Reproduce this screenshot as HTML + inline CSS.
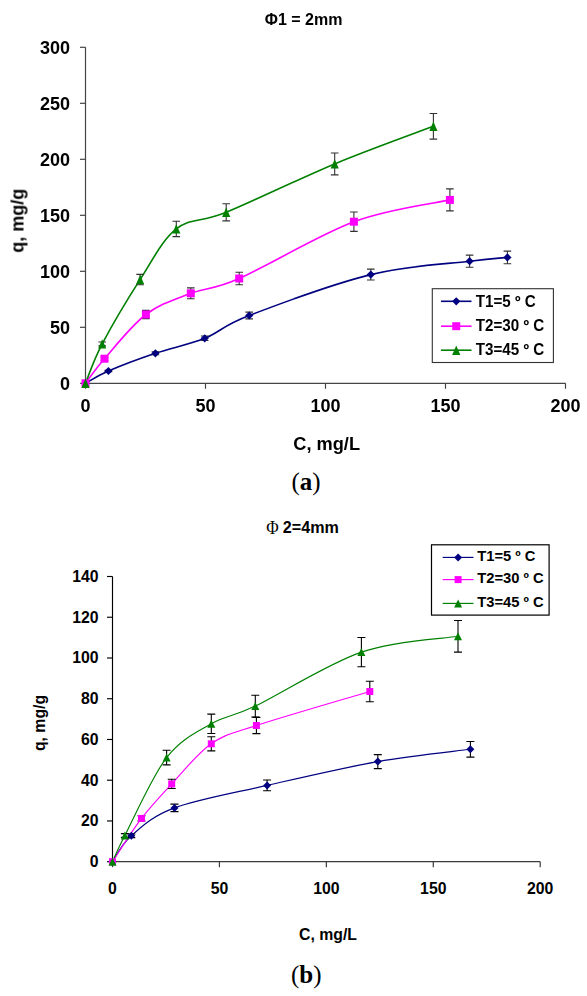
<!DOCTYPE html><html><head><meta charset="utf-8"><title>chart</title><style>
html,body{margin:0;padding:0;background:#fff}svg{display:block}text{font-family:"Liberation Sans",sans-serif;font-weight:bold;fill:#000}.ser{font-family:"Liberation Serif",serif}
</style></head><body>
<svg width="587" height="996" viewBox="0 0 587 996">
<rect width="587" height="996" fill="#fff"/>
<g filter="url(#b1)">
<path d="M85.50,383.30 H565.50" stroke="#444" stroke-width="1.20" fill="none"/>
<path d="M85.50,47.30 V383.30" stroke="#444" stroke-width="1.20" fill="none"/>
<path d="M80.00,383.30 H85.50" stroke="#444" stroke-width="1.20"/>
<text x="70.00" y="389.60" font-size="18.00" text-anchor="end">0</text>
<path d="M80.00,327.30 H85.50" stroke="#444" stroke-width="1.20"/>
<text x="70.00" y="333.60" font-size="18.00" text-anchor="end">50</text>
<path d="M80.00,271.30 H85.50" stroke="#444" stroke-width="1.20"/>
<text x="70.00" y="277.60" font-size="18.00" text-anchor="end">100</text>
<path d="M80.00,215.30 H85.50" stroke="#444" stroke-width="1.20"/>
<text x="70.00" y="221.60" font-size="18.00" text-anchor="end">150</text>
<path d="M80.00,159.30 H85.50" stroke="#444" stroke-width="1.20"/>
<text x="70.00" y="165.60" font-size="18.00" text-anchor="end">200</text>
<path d="M80.00,103.30 H85.50" stroke="#444" stroke-width="1.20"/>
<text x="70.00" y="109.60" font-size="18.00" text-anchor="end">250</text>
<path d="M80.00,47.30 H85.50" stroke="#444" stroke-width="1.20"/>
<text x="70.00" y="53.60" font-size="18.00" text-anchor="end">300</text>
<path d="M85.50,383.30 V388.80" stroke="#444" stroke-width="1.20"/>
<text x="85.50" y="411.80" font-size="18.00" text-anchor="middle">0</text>
<path d="M205.50,383.30 V388.80" stroke="#444" stroke-width="1.20"/>
<text x="205.50" y="411.80" font-size="18.00" text-anchor="middle">50</text>
<path d="M325.50,383.30 V388.80" stroke="#444" stroke-width="1.20"/>
<text x="325.50" y="411.80" font-size="18.00" text-anchor="middle">100</text>
<path d="M445.50,383.30 V388.80" stroke="#444" stroke-width="1.20"/>
<text x="445.50" y="411.80" font-size="18.00" text-anchor="middle">150</text>
<path d="M565.50,383.30 V388.80" stroke="#444" stroke-width="1.20"/>
<text x="565.50" y="411.80" font-size="18.00" text-anchor="middle">200</text>
<path d="M85.50,383.30 C89.32,381.25 96.75,376.00 108.40,371.00 C120.05,366.00 139.35,358.75 155.40,353.30 C171.45,347.85 189.07,344.60 204.70,338.30 C220.33,332.00 221.52,326.12 249.20,315.50 C276.88,304.88 334.07,283.65 370.80,274.60 C407.53,265.55 446.83,264.07 469.60,261.20 C492.37,258.33 501.10,258.03 507.40,257.40" stroke="#000080" stroke-width="1.60" fill="none" stroke-linejoin="round"/>
<path d="M85.50,383.30 C88.67,379.20 94.43,370.17 104.50,358.70 C114.57,347.23 131.52,325.40 145.90,314.50 C160.28,303.60 175.25,299.30 190.80,293.30 C206.35,287.30 212.02,290.43 239.20,278.50 C266.38,266.57 318.78,234.80 353.90,221.70 C389.02,208.60 433.90,203.53 449.90,199.90" stroke="#ff00ff" stroke-width="1.60" fill="none" stroke-linejoin="round"/>
<path d="M85.50,383.30 C88.28,376.73 93.10,361.18 102.20,343.90 C111.30,326.62 127.75,298.77 140.10,279.60 C152.45,260.43 161.95,240.12 176.30,228.90 C190.65,217.68 199.80,223.13 226.20,212.30 C252.60,201.47 300.17,178.23 334.70,163.90 C369.23,149.57 416.95,132.57 433.40,126.30" stroke="#008000" stroke-width="1.60" fill="none" stroke-linejoin="round"/>
<path d="M108.40,370.38 V371.62 M104.60,370.38 H112.20 M104.60,371.62 H112.20" stroke="#333" stroke-width="1.10" fill="none"/>
<path d="M155.40,351.80 V354.80 M151.60,351.80 H159.20 M151.60,354.80 H159.20" stroke="#333" stroke-width="1.10" fill="none"/>
<path d="M204.70,336.05 V340.55 M200.90,336.05 H208.50 M200.90,340.55 H208.50" stroke="#333" stroke-width="1.10" fill="none"/>
<path d="M249.20,312.11 V318.89 M245.40,312.11 H253.00 M245.40,318.89 H253.00" stroke="#333" stroke-width="1.10" fill="none"/>
<path d="M370.80,269.17 V280.04 M367.00,269.17 H374.60 M367.00,280.04 H374.60" stroke="#333" stroke-width="1.10" fill="none"/>
<path d="M469.60,255.09 V267.31 M465.80,255.09 H473.40 M465.80,267.31 H473.40" stroke="#333" stroke-width="1.10" fill="none"/>
<path d="M507.40,251.10 V263.69 M503.60,251.10 H511.20 M503.60,263.69 H511.20" stroke="#333" stroke-width="1.10" fill="none"/>
<path d="M104.50,357.22 V360.18 M100.70,357.22 H108.30 M100.70,360.18 H108.30" stroke="#333" stroke-width="1.10" fill="none"/>
<path d="M145.90,310.37 V318.63 M142.10,310.37 H149.70 M142.10,318.63 H149.70" stroke="#333" stroke-width="1.10" fill="none"/>
<path d="M190.80,287.90 V298.70 M187.00,287.90 H194.60 M187.00,298.70 H194.60" stroke="#333" stroke-width="1.10" fill="none"/>
<path d="M239.20,272.21 V284.79 M235.40,272.21 H243.00 M235.40,284.79 H243.00" stroke="#333" stroke-width="1.10" fill="none"/>
<path d="M353.90,212.00 V231.40 M350.10,212.00 H357.70 M350.10,231.40 H357.70" stroke="#333" stroke-width="1.10" fill="none"/>
<path d="M449.90,188.90 V210.90 M446.10,188.90 H453.70 M446.10,210.90 H453.70" stroke="#333" stroke-width="1.10" fill="none"/>
<path d="M102.20,341.93 V345.87 M98.40,341.93 H106.00 M98.40,345.87 H106.00" stroke="#333" stroke-width="1.10" fill="none"/>
<path d="M140.10,274.42 V284.79 M136.30,274.42 H143.90 M136.30,284.79 H143.90" stroke="#333" stroke-width="1.10" fill="none"/>
<path d="M176.30,221.18 V236.62 M172.50,221.18 H180.10 M172.50,236.62 H180.10" stroke="#333" stroke-width="1.10" fill="none"/>
<path d="M226.20,203.75 V220.85 M222.40,203.75 H230.00 M222.40,220.85 H230.00" stroke="#333" stroke-width="1.10" fill="none"/>
<path d="M334.70,152.93 V174.87 M330.90,152.93 H338.50 M330.90,174.87 H338.50" stroke="#333" stroke-width="1.10" fill="none"/>
<path d="M433.40,113.45 V139.15 M429.60,113.45 H437.20 M429.60,139.15 H437.20" stroke="#333" stroke-width="1.10" fill="none"/>
<path d="M85.50,379.20 l4.10,4.10 l-4.10,4.10 l-4.10,-4.10 z" fill="#000080"/>
<path d="M108.40,366.90 l4.10,4.10 l-4.10,4.10 l-4.10,-4.10 z" fill="#000080"/>
<path d="M155.40,349.20 l4.10,4.10 l-4.10,4.10 l-4.10,-4.10 z" fill="#000080"/>
<path d="M204.70,334.20 l4.10,4.10 l-4.10,4.10 l-4.10,-4.10 z" fill="#000080"/>
<path d="M249.20,311.40 l4.10,4.10 l-4.10,4.10 l-4.10,-4.10 z" fill="#000080"/>
<path d="M370.80,270.50 l4.10,4.10 l-4.10,4.10 l-4.10,-4.10 z" fill="#000080"/>
<path d="M469.60,257.10 l4.10,4.10 l-4.10,4.10 l-4.10,-4.10 z" fill="#000080"/>
<path d="M507.40,253.30 l4.10,4.10 l-4.10,4.10 l-4.10,-4.10 z" fill="#000080"/>
<rect x="81.50" y="379.30" width="8.00" height="8.00" fill="#ff00ff"/>
<rect x="100.50" y="354.70" width="8.00" height="8.00" fill="#ff00ff"/>
<rect x="141.90" y="310.50" width="8.00" height="8.00" fill="#ff00ff"/>
<rect x="186.80" y="289.30" width="8.00" height="8.00" fill="#ff00ff"/>
<rect x="235.20" y="274.50" width="8.00" height="8.00" fill="#ff00ff"/>
<rect x="349.90" y="217.70" width="8.00" height="8.00" fill="#ff00ff"/>
<rect x="445.90" y="195.90" width="8.00" height="8.00" fill="#ff00ff"/>
<path d="M85.50,378.59 l4.10,9.43 l-8.20,0 z" fill="#008000"/>
<path d="M102.20,339.19 l4.10,9.43 l-8.20,0 z" fill="#008000"/>
<path d="M140.10,274.89 l4.10,9.43 l-8.20,0 z" fill="#008000"/>
<path d="M176.30,224.19 l4.10,9.43 l-8.20,0 z" fill="#008000"/>
<path d="M226.20,207.59 l4.10,9.43 l-8.20,0 z" fill="#008000"/>
<path d="M334.70,159.19 l4.10,9.43 l-8.20,0 z" fill="#008000"/>
<path d="M433.40,121.58 l4.10,9.43 l-8.20,0 z" fill="#008000"/>
<rect x="432.30" y="288.70" width="121.10" height="73.80" fill="#fff" stroke="#333" stroke-width="1.10"/>
<path d="M441.00,301.30 H471.50" stroke="#000080" stroke-width="1.60"/>
<path d="M456.25,297.20 l4.10,4.10 l-4.10,4.10 l-4.10,-4.10 z" fill="#000080"/>
<text transform="translate(475.70,306.90) scale(0.9500,1)" font-size="16.00">T1=5 º C</text>
<path d="M441.00,326.20 H471.50" stroke="#ff00ff" stroke-width="1.60"/>
<rect x="452.25" y="322.20" width="8.00" height="8.00" fill="#ff00ff"/>
<text transform="translate(475.70,330.80) scale(0.9500,1)" font-size="16.00">T2=30 º C</text>
<path d="M441.00,350.20 H471.50" stroke="#008000" stroke-width="1.60"/>
<path d="M456.25,345.49 l4.10,9.43 l-8.20,0 z" fill="#008000"/>
<text transform="translate(475.70,355.20) scale(0.9500,1)" font-size="16.00">T3=45 º C</text>
<text transform="translate(23.50,220.70) rotate(-90)" font-size="18.00" text-anchor="middle">q, mg/g</text>
<text x="326.70" y="449.90" font-size="18.20" text-anchor="middle">C, mg/L</text>
<text x="303.6" y="25.4" font-size="16" text-anchor="middle">Φ1 = 2mm</text>
</g>
<text class="ser" x="306" y="489.5" font-size="25" text-anchor="middle" style="font-weight:normal">(<tspan style="font-weight:bold">a</tspan>)</text>
<g>
<path d="M112.50,861.70 H540.20" stroke="#3a3a3a" stroke-width="1.20" fill="none"/>
<path d="M112.50,576.50 V861.70" stroke="#000" stroke-width="1.15" fill="none"/>
<path d="M107.00,861.70 H112.50" stroke="#000" stroke-width="1.15"/>
<text x="98.50" y="867.20" font-size="15.80" text-anchor="end">0</text>
<path d="M107.00,820.96 H112.50" stroke="#000" stroke-width="1.15"/>
<text x="98.50" y="826.46" font-size="15.80" text-anchor="end">20</text>
<path d="M107.00,780.21 H112.50" stroke="#000" stroke-width="1.15"/>
<text x="98.50" y="785.71" font-size="15.80" text-anchor="end">40</text>
<path d="M107.00,739.47 H112.50" stroke="#000" stroke-width="1.15"/>
<text x="98.50" y="744.97" font-size="15.80" text-anchor="end">60</text>
<path d="M107.00,698.73 H112.50" stroke="#000" stroke-width="1.15"/>
<text x="98.50" y="704.23" font-size="15.80" text-anchor="end">80</text>
<path d="M107.00,657.99 H112.50" stroke="#000" stroke-width="1.15"/>
<text x="98.50" y="663.49" font-size="15.80" text-anchor="end">100</text>
<path d="M107.00,617.24 H112.50" stroke="#000" stroke-width="1.15"/>
<text x="98.50" y="622.74" font-size="15.80" text-anchor="end">120</text>
<path d="M107.00,576.50 H112.50" stroke="#000" stroke-width="1.15"/>
<text x="98.50" y="582.00" font-size="15.80" text-anchor="end">140</text>
<path d="M112.50,861.70 V867.20" stroke="#3a3a3a" stroke-width="1.20"/>
<text x="112.50" y="894.00" font-size="15.80" text-anchor="middle">0</text>
<path d="M219.43,861.70 V867.20" stroke="#3a3a3a" stroke-width="1.20"/>
<text x="219.43" y="894.00" font-size="15.80" text-anchor="middle">50</text>
<path d="M326.35,861.70 V867.20" stroke="#3a3a3a" stroke-width="1.20"/>
<text x="326.35" y="894.00" font-size="15.80" text-anchor="middle">100</text>
<path d="M433.28,861.70 V867.20" stroke="#3a3a3a" stroke-width="1.20"/>
<text x="433.28" y="894.00" font-size="15.80" text-anchor="middle">150</text>
<path d="M540.20,861.70 V867.20" stroke="#3a3a3a" stroke-width="1.20"/>
<text x="540.20" y="894.00" font-size="15.80" text-anchor="middle">200</text>
<path d="M112.50,861.70 C115.63,857.38 120.97,844.77 131.30,835.80 C141.63,826.83 151.87,816.30 174.50,807.90 C197.13,799.50 233.22,793.12 267.10,785.40 C300.98,777.68 343.92,767.62 377.80,761.60 C411.68,755.58 454.97,751.35 470.40,749.30" stroke="#000080" stroke-width="1.15" fill="none" stroke-linejoin="round"/>
<path d="M112.50,861.70 C117.33,854.48 131.63,831.37 141.50,818.40 C151.37,805.43 160.07,796.33 171.70,783.90 C183.33,771.47 197.18,753.53 211.30,743.80 C225.42,734.07 229.98,734.22 256.40,725.50 C282.82,716.78 350.90,697.17 369.80,691.50" stroke="#ff00ff" stroke-width="1.15" fill="none" stroke-linejoin="round"/>
<path d="M112.50,861.70 C114.57,857.33 115.88,852.85 124.90,835.50 C133.92,818.15 152.20,776.22 166.60,757.60 C181.00,738.98 196.52,732.38 211.30,723.80 C226.08,715.22 230.28,718.05 255.30,706.10 C280.32,694.15 327.62,663.73 361.40,652.10 C395.18,640.47 441.90,638.93 458.00,636.30" stroke="#008000" stroke-width="1.15" fill="none" stroke-linejoin="round"/>
<path d="M131.30,833.99 V837.61 M127.30,833.99 H135.30 M127.30,837.61 H135.30" stroke="#000" stroke-width="1.10" fill="none"/>
<path d="M174.50,804.13 V811.67 M170.50,804.13 H178.50 M170.50,811.67 H178.50" stroke="#000" stroke-width="1.10" fill="none"/>
<path d="M267.10,780.06 V790.74 M263.10,780.06 H271.10 M263.10,790.74 H271.10" stroke="#000" stroke-width="1.10" fill="none"/>
<path d="M377.80,754.59 V768.61 M373.80,754.59 H381.80 M373.80,768.61 H381.80" stroke="#000" stroke-width="1.10" fill="none"/>
<path d="M470.40,741.43 V757.17 M466.40,741.43 H474.40 M466.40,757.17 H474.40" stroke="#000" stroke-width="1.10" fill="none"/>
<path d="M141.50,815.80 V821.00 M137.50,815.80 H145.50 M137.50,821.00 H145.50" stroke="#000" stroke-width="1.10" fill="none"/>
<path d="M171.70,779.23 V788.57 M167.70,779.23 H175.70 M167.70,788.57 H175.70" stroke="#000" stroke-width="1.10" fill="none"/>
<path d="M211.30,736.73 V750.87 M207.30,736.73 H215.30 M207.30,750.87 H215.30" stroke="#000" stroke-width="1.10" fill="none"/>
<path d="M256.40,717.33 V733.67 M252.40,717.33 H260.40 M252.40,733.67 H260.40" stroke="#000" stroke-width="1.10" fill="none"/>
<path d="M369.80,681.29 V701.71 M365.80,681.29 H373.80 M365.80,701.71 H373.80" stroke="#000" stroke-width="1.10" fill="none"/>
<path d="M124.90,833.67 V837.33 M120.90,833.67 H128.90 M120.90,837.33 H128.90" stroke="#000" stroke-width="1.10" fill="none"/>
<path d="M166.60,750.31 V764.89 M162.60,750.31 H170.60 M162.60,764.89 H170.60" stroke="#000" stroke-width="1.10" fill="none"/>
<path d="M211.30,714.15 V733.45 M207.30,714.15 H215.30 M207.30,733.45 H215.30" stroke="#000" stroke-width="1.10" fill="none"/>
<path d="M255.30,695.21 V716.99 M251.30,695.21 H259.30 M251.30,716.99 H259.30" stroke="#000" stroke-width="1.10" fill="none"/>
<path d="M361.40,637.43 V666.77 M357.40,637.43 H365.40 M357.40,666.77 H365.40" stroke="#000" stroke-width="1.10" fill="none"/>
<path d="M458.00,620.52 V652.08 M454.00,620.52 H462.00 M454.00,652.08 H462.00" stroke="#000" stroke-width="1.10" fill="none"/>
<path d="M112.50,857.70 l4.00,4.00 l-4.00,4.00 l-4.00,-4.00 z" fill="#000080"/>
<path d="M131.30,831.80 l4.00,4.00 l-4.00,4.00 l-4.00,-4.00 z" fill="#000080"/>
<path d="M174.50,803.90 l4.00,4.00 l-4.00,4.00 l-4.00,-4.00 z" fill="#000080"/>
<path d="M267.10,781.40 l4.00,4.00 l-4.00,4.00 l-4.00,-4.00 z" fill="#000080"/>
<path d="M377.80,757.60 l4.00,4.00 l-4.00,4.00 l-4.00,-4.00 z" fill="#000080"/>
<path d="M470.40,745.30 l4.00,4.00 l-4.00,4.00 l-4.00,-4.00 z" fill="#000080"/>
<rect x="109.00" y="858.20" width="7.00" height="7.00" fill="#ff00ff"/>
<rect x="138.00" y="814.90" width="7.00" height="7.00" fill="#ff00ff"/>
<rect x="168.20" y="780.40" width="7.00" height="7.00" fill="#ff00ff"/>
<rect x="207.80" y="740.30" width="7.00" height="7.00" fill="#ff00ff"/>
<rect x="252.90" y="722.00" width="7.00" height="7.00" fill="#ff00ff"/>
<rect x="366.30" y="688.00" width="7.00" height="7.00" fill="#ff00ff"/>
<path d="M112.50,857.70 l4.00,8.00 l-8.00,0 z" fill="#008000"/>
<path d="M124.90,831.50 l4.00,8.00 l-8.00,0 z" fill="#008000"/>
<path d="M166.60,753.60 l4.00,8.00 l-8.00,0 z" fill="#008000"/>
<path d="M211.30,719.80 l4.00,8.00 l-8.00,0 z" fill="#008000"/>
<path d="M255.30,702.10 l4.00,8.00 l-8.00,0 z" fill="#008000"/>
<path d="M361.40,648.10 l4.00,8.00 l-8.00,0 z" fill="#008000"/>
<path d="M458.00,632.30 l4.00,8.00 l-8.00,0 z" fill="#008000"/>
<rect x="431.50" y="544.80" width="117.60" height="70.30" fill="#fff" stroke="#000" stroke-width="1.20"/>
<path d="M442.70,557.40 H473.50" stroke="#000080" stroke-width="1.15"/>
<path d="M458.10,553.40 l4.00,4.00 l-4.00,4.00 l-4.00,-4.00 z" fill="#000080"/>
<text transform="translate(477.20,561.00) scale(0.9850,1)" font-size="15.00">T1=5 º C</text>
<path d="M442.70,579.60 H473.50" stroke="#ff00ff" stroke-width="1.15"/>
<rect x="454.60" y="576.10" width="7.00" height="7.00" fill="#ff00ff"/>
<text transform="translate(477.20,583.00) scale(0.9850,1)" font-size="15.00">T2=30 º C</text>
<path d="M442.70,603.40 H473.50" stroke="#008000" stroke-width="1.15"/>
<path d="M458.10,599.40 l4.00,8.00 l-8.00,0 z" fill="#008000"/>
<text transform="translate(477.20,607.00) scale(0.9850,1)" font-size="15.00">T3=45 º C</text>
<text transform="translate(45.00,723.00) rotate(-90)" font-size="15.80" text-anchor="middle">q, mg/g</text>
<text x="328.00" y="940.20" font-size="15.80" text-anchor="middle">C, mg/L</text>
<text class="ser" transform="translate(266.3,533.6) scale(0.92,1)" font-size="18.5" style="font-weight:normal">Φ</text><text x="282.8" y="533.2" font-size="16" textLength="56" lengthAdjust="spacingAndGlyphs">2=4mm</text>
</g>
<text class="ser" x="306.3" y="982.7" font-size="25" text-anchor="middle" style="font-weight:normal">(<tspan style="font-weight:bold">b</tspan>)</text>
<defs><filter id="b1" x="-5%" y="-5%" width="110%" height="110%"><feGaussianBlur stdDeviation="0.45"/></filter></defs>
</svg></body></html>
